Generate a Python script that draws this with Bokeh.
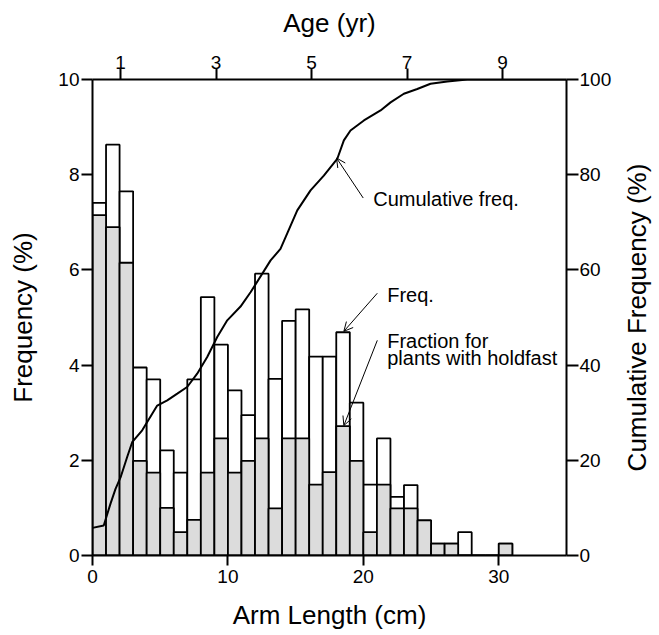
from bokeh.plotting import figure
from bokeh.layouts import row
from bokeh.models import (Range1d, LinearAxis, FixedTicker, Label, Arrow,
                          OpenHead, ColumnDataSource, Title)
from bokeh.embed import file_html
from bokeh.resources import INLINE

# ---- data ----
bin_left = list(range(31))                      # arm-length bins (cm), width 1
freq = [7.41, 8.63, 7.65, 3.95, 3.70, 2.21, 1.74, 3.70, 5.43, 4.43,
        3.47, 2.95, 5.92, 3.71, 4.93, 5.17, 4.18, 4.18, 4.69, 3.21,
        1.49, 2.46, 1.23, 1.48, 0.74, 0.25, 0.25, 0.49, 0.0, 0.0, 0.25]
holdfast = [7.15, 6.90, 6.15, 1.99, 1.74, 1.00, 0.49, 0.75, 1.74, 2.46,
            1.74, 1.99, 2.46, 0.99, 2.46, 2.46, 1.49, 1.75, 2.72, 1.99,
            0.49, 1.49, 0.99, 0.99, 0.74, 0.25, 0.25, 0.0, 0.0, 0.0, 0.25]
cum_x = [0.0, 0.83, 1.33, 1.70, 2.07, 2.56, 2.93, 3.67, 4.41, 4.78, 5.52,
         6.26, 6.99, 7.73, 8.47, 9.21, 9.95, 10.93, 11.67, 13.15, 13.88,
         15.12, 16.10, 17.08, 18.07, 18.56, 19.05, 20.04, 21.27, 22.01,
         22.99, 23.98, 24.96, 26.2, 27.67, 35.0]
cum_y = [5.8, 6.3, 10.9, 14.0, 16.4, 20.7, 23.8, 26.3, 29.8, 31.5, 32.6,
         34.0, 35.4, 38.2, 41.7, 45.9, 49.4, 52.3, 55.3, 62.0, 64.4,
         72.5, 76.7, 79.8, 83.3, 87.2, 89.3, 91.4, 93.5, 95.2,
         97.0, 98.0, 99.1, 99.6, 100.0, 100.0]
left_ticks = [0, 2, 4, 6, 8, 10]
right_ticks = [0, 20, 40, 60, 80, 100]
bottom_ticks = [0, 10, 20, 30]
age_ticks = [1, 3, 5, 7, 9]

FONT = "Liberation Sans"
GREY = "#dcdcdc"

p = figure(width=619, height=635, x_range=Range1d(0, 35), y_range=Range1d(0, 10),
           output_backend="svg", toolbar_location=None,
           min_border_left=92, min_border_right=53, min_border_top=79,
           min_border_bottom=80, x_axis_location=None, y_axis_location=None)
p.outline_line_color = None
p.grid.grid_line_color = None
p.background_fill_color = "white"
p.border_fill_color = "white"
p.extra_y_ranges = {"cum": Range1d(0, 100)}
p.extra_x_ranges = {"age": Range1d(0.4136, 10.34)}


def style(ax, tick_out=11, standoff=2, label_standoff=14):
    ax.axis_line_width = 2
    ax.axis_line_color = "black"
    ax.major_tick_line_width = 2
    ax.major_tick_line_color = "black"
    ax.major_tick_out = tick_out
    ax.major_tick_in = 0
    ax.minor_tick_out = 0
    ax.minor_tick_in = 0
    ax.major_label_text_font = FONT
    ax.major_label_text_font_size = "19px"
    ax.major_label_text_color = "black"
    ax.major_label_standoff = standoff
    ax.axis_label_text_font = FONT
    ax.axis_label_text_font_size = "26px"
    ax.axis_label_text_font_style = "normal"
    ax.axis_label_text_color = "black"
    ax.axis_label_standoff = label_standoff


bottom = LinearAxis(ticker=FixedTicker(ticks=bottom_ticks), axis_label="Arm Length (cm)")
style(bottom, tick_out=10, standoff=4, label_standoff=14)
p.add_layout(bottom, "below")

left = LinearAxis(ticker=FixedTicker(ticks=left_ticks), axis_label="Frequency (%)")
style(left, tick_out=11, standoff=2, label_standoff=17)
p.add_layout(left, "left")

right = LinearAxis(y_range_name="cum", ticker=FixedTicker(ticks=right_ticks))
style(right, tick_out=12, standoff=1, label_standoff=13)
p.add_layout(right, "right")

top = LinearAxis(x_range_name="age", ticker=FixedTicker(ticks=age_ticks),
                 axis_label="Age (yr)")
style(top, tick_out=11, standoff=0, label_standoff=15)
p.add_layout(top, "above")

src = ColumnDataSource(dict(
    left=bin_left,
    right=[b + 1 for b in bin_left],
    freq=freq,
    hold=holdfast,
))
p.quad(left="left", right="right", bottom=0, top="freq", source=src,
       fill_color="white", line_color="black", line_width=1.8)
p.quad(left="left", right="right", bottom=0, top="hold", source=src,
       fill_color=GREY, line_color="black", line_width=1.8)

p.line(cum_x, cum_y, y_range_name="cum", line_color="black", line_width=2)

# annotations
def lab(x, y, t):
    p.add_layout(Label(x=x, y=y, text=t, text_font=FONT, text_font_size="20px",
                       text_color="black", text_baseline="middle"))

lab(20.73, 7.50, "Cumulative freq.")
lab(21.76, 5.47, "Freq.")
lab(21.76, 4.50, "Fraction for")
lab(21.76, 4.14, "plants with holdfast")

for (xs, ys, xe, ye) in [(19.99, 7.51, 18.02, 8.35),
                         (21.03, 5.51, 18.56, 4.71),
                         (21.03, 4.52, 18.56, 2.73)]:
    p.add_layout(Arrow(x_start=xs, y_start=ys, x_end=xe, y_end=ye,
                       line_color="black", line_width=1,
                       end=OpenHead(size=9, line_width=1, line_color="black")))

# narrow strip on the right that carries the right-hand axis title (bottom-to-top)
p2 = figure(width=40, height=635, x_range=Range1d(0, 1), y_range=Range1d(0, 1),
            output_backend="svg", toolbar_location=None,
            min_border_left=0, min_border_right=0, min_border_top=79,
            min_border_bottom=80, x_axis_location=None, y_axis_location=None)
p2.outline_line_color = None
p2.grid.grid_line_color = None
p2.add_layout(Title(text="Cumulative Frequency (%)", align="center",
                    text_font=FONT, text_font_size="26px",
                    text_font_style="normal", text_color="black",
                    standoff=0, offset=0), "left")

layout = row(p, p2, spacing=0)
open("out.html", "w").write(file_html(layout, INLINE))
